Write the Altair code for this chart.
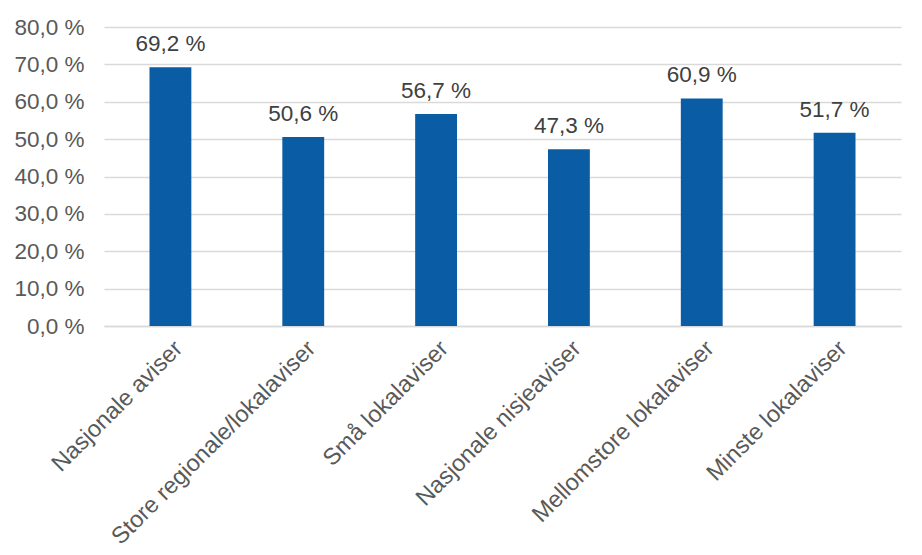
import altair as alt
import pandas as pd

categories = ["Nasjonale aviser", "Store regionale/lokalaviser", "Små lokalaviser",
              "Nasjonale nisjeaviser", "Mellomstore lokalaviser", "Minste lokalaviser"]
values = [69.2, 50.6, 56.7, 47.3, 60.9, 51.7]

df = pd.DataFrame({"kategori": categories, "andel": values})

FONT = "Liberation Sans"
FS = 22.5

x = alt.X("kategori:N", sort=categories, title=None,
          scale=alt.Scale(paddingInner=0.685, paddingOuter=0.3425),
          axis=alt.Axis(labelAngle=-45, labelFontSize=23.5, labelColor="#595959",
                        labelFont=FONT, ticks=False, domainColor="#d9d9d9",
                        domainWidth=1.3, labelPadding=10, labelLimit=400))
y = alt.Y("andel:Q", title=None,
          scale=alt.Scale(domain=[0, 80]),
          axis=alt.Axis(values=[0, 10, 20, 30, 40, 50, 60, 70, 80],
                        labelExpr="replace(format(datum.value, '.1f'), '.', ',') + ' %'",
                        labelFontSize=FS, labelColor="#595959", labelFont=FONT,
                        ticks=False, domain=False, gridColor="#d9d9d9", gridWidth=1.3,
                        labelPadding=20))

base = alt.Chart(df).encode(x=x, y=y)

bars = base.mark_bar(color="#0A5CA4")
text = base.transform_calculate(
    lab="replace(format(datum.andel, '.1f'), '.', ',') + ' %'"
).mark_text(baseline="bottom", dy=-11, fontSize=FS, font=FONT, color="#404040").encode(
    text="lab:N")

chart = (bars + text).properties(
    width=797, height=299,
    padding={"left": 5, "top": 8, "right": 5, "bottom": 5}
).configure_view(stroke=None)

chart.save("out.html", embed_options={"renderer": "svg", "actions": False})
